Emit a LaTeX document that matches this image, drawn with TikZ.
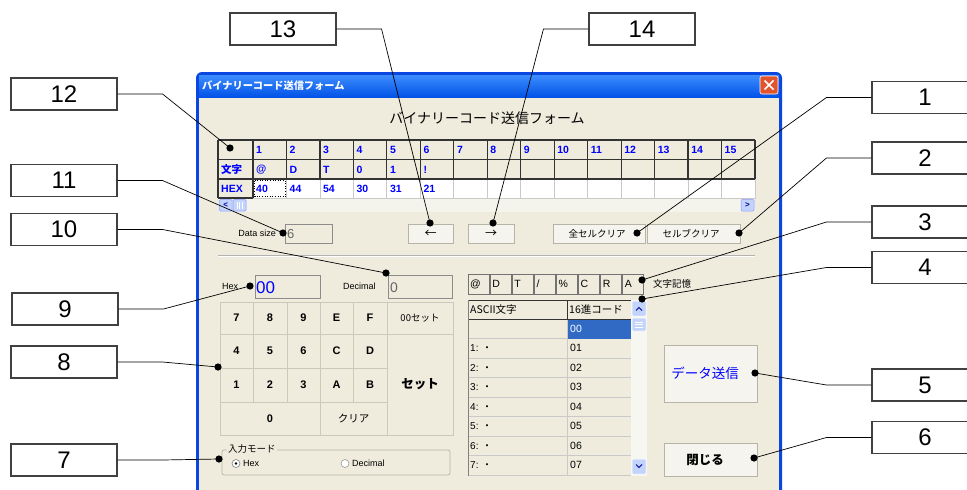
\documentclass[tikz,border=0pt]{standalone}
\usepackage{fontspec}
\setmainfont{Liberation Sans}
\newfontfamily\jp{Noto Sans CJK JP}
\definecolor{winbg}{HTML}{EFECDD}
\definecolor{winborder}{HTML}{0A46E0}
\definecolor{titletop}{HTML}{3D8DFF}
\definecolor{titlebot}{HTML}{0050E6}
\definecolor{closered}{HTML}{E0542E}
\definecolor{btnbg}{HTML}{F5F4EE}
\definecolor{btnedge}{HTML}{B7B4A6}
\definecolor{keyedge}{HTML}{CCC9BA}
\definecolor{gridline}{HTML}{C9C9C9}
\definecolor{selblue}{HTML}{316AC5}
\definecolor{sbblue}{HTML}{C3D4FC}
\definecolor{xpblue}{HTML}{0000FF}
\definecolor{sbtrack}{HTML}{F4F3EC}
\definecolor{sbtrackb}{HTML}{F7F7F2}
\tikzset{
  callout/.style={draw=black!75, line width=1.1pt, fill=white, minimum width=106, minimum height=32, inner sep=0pt, font=\fontsize{24}{24}\selectfont},
  conn/.style={draw=black, line width=0.7pt},
  dotmark/.style={fill=black},
  xpbtn/.style={fill=btnbg, draw=btnedge, line width=0.6pt},
  keycell/.style={fill=winbg, draw=keyedge, line width=0.8pt},
  sunken/.style={fill=winbg, draw=black!45, line width=0.6pt},
  hdrtxt/.style={text=xpblue, font=\bfseries\fontsize{10.5}{10}\selectfont, anchor=west, inner sep=0pt},
  smalltxt/.style={font=\fontsize{9}{9}\selectfont, inner sep=0pt},
  jpsmall/.style={font=\jp\fontsize{9.5}{9}\selectfont, inner sep=0pt},
  keytxt/.style={font=\bfseries\fontsize{11}{11}\selectfont},
  sbbtn/.style={fill=sbblue, draw=white, line width=0.5pt, rounded corners=1pt}
}
\begin{document}
\begin{tikzpicture}[x=1pt,y=-1pt]
\useasboundingbox (0,0) rectangle (967,490);
\fill[white] (0,0) rectangle (967,490);

% ---------------- window ----------------
\fill[winborder, rounded corners=6pt] (196,72) rectangle (782,520);
\shade[top color=titletop, bottom color=titlebot] (199,75) rectangle (779,98);
\fill[winbg] (199,98) rectangle (779,520);
\node[anchor=west, text=white, font=\jp\bfseries\fontsize{10.2}{10}\selectfont, inner sep=0pt] (title) at (202,86) {バイナリーコード送信フォーム};
\fill[closered, draw=white, line width=0.6pt, rounded corners=2pt] (760,76) rectangle (778,94);
\draw[white, line width=1.6pt] (764.5,80.5) -- (773.5,89.5) (773.5,80.5) -- (764.5,89.5);

\node[font=\jp\fontsize{14}{14}\selectfont] (heading) at (487,118) {バイナリーコード送信フォーム};

% ---------------- top grid ----------------
\fill[white] (218,140) rectangle (755,198);
\fill[winbg] (218,140) rectangle (755,179);
\fill[winbg] (218,179) rectangle (253,198);
\foreach \i in {1,...,15} {
  \draw[gridline, line width=0.8pt] ({253+33.467*\i},179) -- ({253+33.467*\i},198);
}
\draw[gridline, line width=0.8pt] (253,179) -- (253,198);
\foreach \i in {0,...,15} {
  \draw[black!80, line width=1.2pt] ({253+33.467*\i},140) -- ({253+33.467*\i},179);
}
\draw[black!80, line width=1.2pt] (218,140) -- (755,140) (218,159.5) -- (755,159.5) (218,179) -- (755,179);
\draw[black!80, line width=1.2pt] (218,140) -- (218,198) (253,179) -- (253,198);
\draw[black!80, line width=1.2pt] (218,198) -- (253,198);
\draw[gridline, line width=0.8pt] (253,198) -- (755,198) -- (755,179);
\foreach \i in {1,...,15} {
  \node[hdrtxt] at ({253+33.467*(\i-1)+3},149.5) {\i};
}
\node[hdrtxt, font=\jp\bfseries\fontsize{10.5}{10}\selectfont] at (221,169.5) {文字};
\node[hdrtxt] at (221,189) {HEX};
\foreach \c [count=\k] in {@,D,T,0,1,!} {
  \node[hdrtxt] at ({253+33.467*(\k-1)+3},169.5) {\c};
}
\foreach \c [count=\k] in {40,44,54,30,31,21} {
  \node[hdrtxt] at ({253+33.467*(\k-1)+3},189) {\c};
}
\draw[black, dotted, line width=0.6pt] (254.5,180.5) rectangle (285.5,196.5);
% horizontal scrollbar
\fill[sbtrack] (218.6,198.6) rectangle (755,212);
\draw[sbblue!70!blue, line width=0.5pt, fill=sbblue, rounded corners=1pt] (219.5,199.5) rectangle (232,211);
\node[text=blue!60!black, font=\fontsize{8}{8}\selectfont\bfseries, inner sep=0pt] (sbl) at (225.8,205.3) {<};
\draw[sbblue!70!blue, line width=0.5pt, fill=sbblue, rounded corners=1pt] (233,199.5) rectangle (246,211);
\draw[white, line width=0.5pt] (237,202) -- (237,208.5) (239.5,202) -- (239.5,208.5) (242,202) -- (242,208.5);
\draw[sbblue!70!blue, line width=0.5pt, fill=sbblue, rounded corners=1pt] (741,199.5) rectangle (754,211);
\node[text=blue!60!black, font=\fontsize{8}{8}\selectfont\bfseries, inner sep=0pt] (sbr) at (747.5,205.3) {>};

% ---------------- data size row ----------------
\node[smalltxt, anchor=east] (dslabel) at (276,233.5) {Data size};
\draw[sunken] (285,224) rectangle (332,243);
\node[anchor=west, text=black!60, font=\fontsize{13}{13}\selectfont, inner sep=0pt] (dsval) at (287,234) {6};
\draw[xpbtn] (408,224) rectangle (453,243);
\node[font=\jp\fontsize{12}{12}\selectfont] (larrow) at (430.5,234) {←};
\draw[xpbtn] (468,224) rectangle (514,243);
\node[font=\jp\fontsize{12}{12}\selectfont] (rarrow) at (491,234) {→};
\draw[xpbtn] (553,224) rectangle (645,243);
\node[jpsmall] (allclr) at (597,233.5) {全セルクリア};
\draw[xpbtn] (647,224) rectangle (740,243);
\node[jpsmall] (cellclr) at (691,233.5) {セルブクリア};

% separator
\draw[black!30, line width=0.8pt] (218,255) -- (755,255);
\draw[white, line width=0.8pt] (218,256) -- (755,256);

% ---------------- hex / decimal ----------------
\node[smalltxt, anchor=west] (hexlabel) at (222,286.5) {Hex};
\draw[sunken] (255,275) rectangle (320,298);
\node[anchor=west, text=xpblue, font=\fontsize{17}{17}\selectfont, inner sep=0pt] (hexval) at (256,287.5) {00};
\node[smalltxt, anchor=west] (declabel) at (343,286.5) {Decimal};
\draw[sunken] (388,275) rectangle (452,298);
\node[anchor=west, text=black!60, font=\fontsize{14}{14}\selectfont, inner sep=0pt] (decval) at (390,287.5) {0};

% ---------------- keypad ----------------
\foreach \xa/\xb in {220/253,253/287,287/320,320/353,353/387} {
  \foreach \ya/\yb in {302/334,334/368,368/402} {
    \draw[keycell] (\xa,\ya) rectangle (\xb,\yb);
  }
}
\draw[keycell] (387,302) rectangle (453,334);
\draw[keycell] (387,334) rectangle (453,435);
\draw[keycell] (220,402) rectangle (320,435);
\draw[keycell] (320,402) rectangle (387,435);
\foreach \c/\x/\y in {7/236.5/318, 8/270/318, 9/303.5/318, E/336.5/318, F/370/318,
                       4/236.5/351, 5/270/351, 6/303.5/351, C/336.5/351, D/370/351,
                       1/236.5/385, 2/270/385, 3/303.5/385, A/336.5/385, B/370/385,
                       0/270/418.5} {
  \node[keytxt] at (\x,\y) {\c};
}
\node[font=\jp\fontsize{9.5}{9}\selectfont] (k00) at (420,318) {00セット};
\node[font=\jp\bfseries\fontsize{12.5}{12}\selectfont] (kset) at (420,384.5) {セット};
\node[font=\jp\fontsize{10.5}{10}\selectfont] (kclr) at (353.5,418.5) {クリア};

% ---------------- input mode group ----------------
\draw[btnedge, line width=0.7pt, rounded corners=2pt] (222,450) rectangle (450,475);
\node[jpsmall, anchor=west, fill=winbg, inner xsep=1pt] (modelabel) at (227,449) {入力モード};
\draw[black!50, fill=white, line width=0.6pt] (236,463.5) circle (4pt);
\fill[black] (236,463.5) circle (1.3pt);
\node[smalltxt, anchor=west] (hexradio) at (243,463.5) {Hex};
\draw[black!40, fill=white, line width=0.6pt] (345,463.5) circle (4pt);
\node[smalltxt, anchor=west] (decradio) at (352,463.5) {Decimal};

% ---------------- character memory ----------------
\foreach \c [count=\k] in {@,D,T,/,\%,C,R,A} {
  \draw[sunken, draw=black!55] ({468+22.1*(\k-1)},274) rectangle ({489+22.1*(\k-1)},294);
  \node[anchor=west, font=\fontsize{10.5}{10}\selectfont, inner sep=0pt] at ({470+22.1*(\k-1)},284) {\c};
}
\node[jpsmall, anchor=west] (memlabel) at (653,284) {文字記憶};

% ---------------- list view ----------------
\fill[winbg] (468,300) rectangle (647,476);
\foreach \i in {0,...,7} {
  \draw[gridline, line width=0.7pt] (468,{319+19.5*(\i+1)}) -- (631,{319+19.5*(\i+1)});
}
\draw[gridline, line width=0.7pt] (567,319) -- (567,476);
\fill[selblue] (567.5,319.5) rectangle (631,338.5);
\node[anchor=west, text=white, font=\fontsize{10.5}{10}\selectfont, inner sep=0pt] at (570,329) {00};
\foreach \i in {1,...,7} {
  \node[anchor=west, font=\fontsize{10}{10}\selectfont, inner sep=0pt] at (470,{319+19.5*\i+9.75}) {\i: {\jp ・}};
  \node[anchor=west, font=\fontsize{10.5}{10}\selectfont, inner sep=0pt] at (570,{319+19.5*\i+9.75}) {0\i};
}
\draw[black!80, line width=1pt, fill=winbg] (468,300) rectangle (567,319);
\draw[black!80, line width=1pt, fill=winbg] (567,300) rectangle (631,319);
\node[anchor=west, font=\jp\fontsize{10.5}{10}\selectfont, inner sep=0pt] (lvh1) at (470,309.5) {ASCII文字};
\begin{scope}
\clip (567,300) rectangle (630,319);
\node[anchor=west, font=\jp\fontsize{10.5}{10}\selectfont, inner sep=0pt] (lvh2) at (569,309.5) {16進コード};
\end{scope}
\fill[sbtrackb] (631,300) rectangle (647,476);
\draw[sbbtn] (632,301) rectangle (646,316);
\draw[blue!60!black, line width=1pt] (636,310.5) -- (639,307.5) -- (642,310.5);
\draw[sbbtn] (632,318) rectangle (646,331);
\draw[white, line width=0.5pt] (635,322) -- (643,322) (635,324.5) -- (643,324.5) (635,327) -- (643,327);
\draw[sbbtn] (632,459) rectangle (646,474);
\draw[blue!60!black, line width=1pt] (636,464.5) -- (639,467.5) -- (642,464.5);
\draw[black!50, line width=0.7pt] (468,300) -- (468,476);

% ---------------- big buttons ----------------
\draw[xpbtn] (664,345) rectangle (757,402);
\node[text=xpblue, font=\jp\fontsize{13.5}{13}\selectfont] (send) at (705,373.5) {データ送信};
\draw[xpbtn] (664,443) rectangle (757,476);
\node[font=\jp\bfseries\fontsize{12.5}{12}\selectfont] (close) at (705,459.5) {閉じる};

% ---------------- callouts ----------------
\coordinate (d1) at (637,233);
\coordinate (d2) at (739,233);
\coordinate (d3) at (642,280);
\coordinate (d4) at (642,299);
\coordinate (d5) at (755,373);
\coordinate (d6) at (754,458);
\coordinate (d7) at (219,459);
\coordinate (d8) at (218,367);
\coordinate (d9) at (250,286);
\coordinate (d10) at (386,273);
\coordinate (d11) at (283,233);
\coordinate (d12) at (230,148);
\coordinate (d13) at (430,223);
\coordinate (d14) at (493,223);

\node[callout] (c13) at (283,29) {13};
\node[callout] (c14) at (642,29) {14};
\node[callout] (c12) at (64,94) {12};
\node[callout] (c11) at (64,180.5) {11};
\node[callout] (c10) at (64,229.5) {10};
\node[callout] (c9) at (65,309) {9};
\node[callout] (c8) at (64,362) {8};
\node[callout] (c7) at (64,460) {7};
\node[callout] (c1) at (925,97.5) {1};
\node[callout] (c2) at (925,158) {2};
\node[callout] (c3) at (925,222) {3};
\node[callout] (c4) at (925,267.5) {4};
\node[callout] (c5) at (925,385) {5};
\node[callout] (c6) at (925,437.5) {6};

\foreach \n in {7,8,9,10,11,12,13} {
  \draw[conn] (c\n.east) -- ++(45,0) -- (d\n);
}
\foreach \n in {1,2,3,4,5,6,14} {
  \draw[conn] (c\n.west) -- ++(-45,0) -- (d\n);
}
\foreach \n in {1,...,14} {
  \fill[dotmark] (d\n) circle (3.6pt);
}
\end{tikzpicture}
\end{document}
